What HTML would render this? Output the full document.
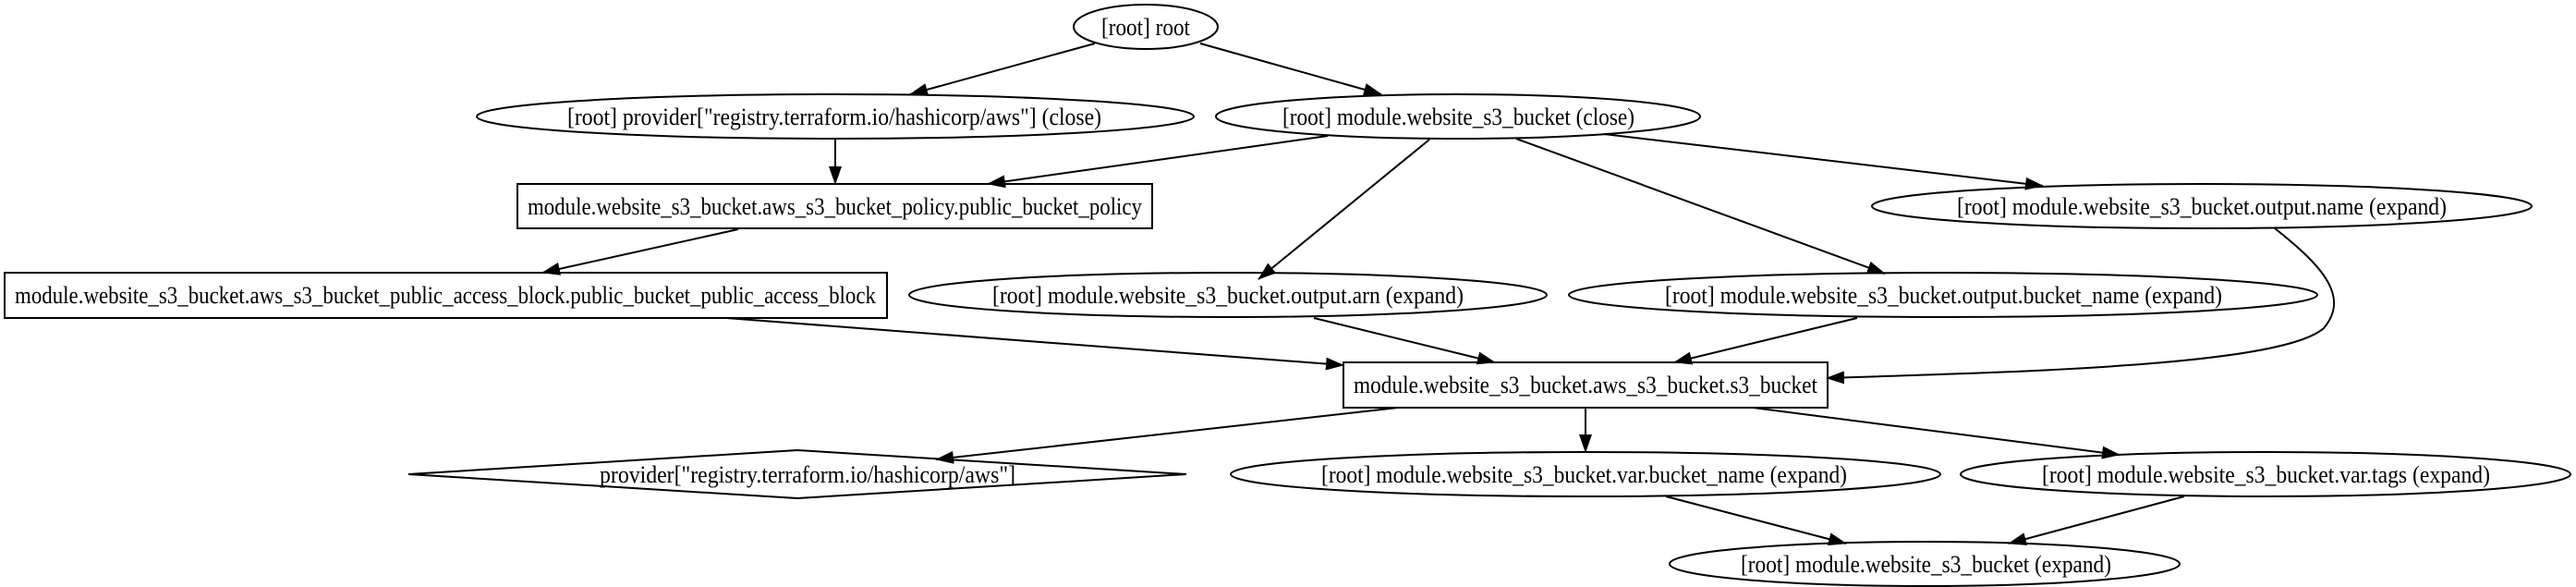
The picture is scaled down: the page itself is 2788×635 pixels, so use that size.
<!DOCTYPE html>
<html><head><meta charset="utf-8"><style>html,body{margin:0;padding:0;background:#fff}svg{display:block}</style></head>
<body>
<svg width="2788" height="635" viewBox="0 0 2788 635" xmlns="http://www.w3.org/2000/svg">
<defs>
<marker id="a" markerWidth="20" markerHeight="14" refX="19" refY="7" orient="auto" markerUnits="userSpaceOnUse">
<path d="M0,0 L20,7 L0,14 z" fill="#000"/>
</marker>
</defs>
<g fill="none" stroke="#000" stroke-width="2">
<ellipse cx="1240" cy="29" rx="78" ry="24"/>
<ellipse cx="904" cy="126" rx="388" ry="24"/>
<ellipse cx="1578" cy="126" rx="262" ry="24"/>
<rect x="560" y="199" width="687" height="48"/>
<ellipse cx="2383" cy="223" rx="357" ry="24"/>
<rect x="5" y="295" width="955" height="49"/>
<ellipse cx="1329" cy="319" rx="345" ry="24"/>
<ellipse cx="2103" cy="319" rx="405" ry="24"/>
<rect x="1454" y="392" width="524" height="49"/>
<polygon points="442,513 863,487 1284,513 863,539"/>
<ellipse cx="1716" cy="513" rx="384" ry="24"/>
<ellipse cx="2452" cy="513" rx="330" ry="24"/>
<ellipse cx="2083" cy="610" rx="276" ry="24"/>
</g>
<g fill="none" stroke="#000" stroke-width="2" marker-end="url(#a)">
<path d="M1185,47 L985,102"/>
<path d="M1299,47 L1495,102"/>
<path d="M904,150 L904,199"/>
<path d="M1437,147 L1069,199"/>
<path d="M799,248 L587,295"/>
<path d="M786,344 L1454,395"/>
<path d="M1547,151 L1362,302"/>
<path d="M1641,150 L2040,296"/>
<path d="M1736,145 L2211,201"/>
<path d="M2462,247 C2510,285 2545,320 2515,355 C2470,395 2200,402 1977,409"/>
<path d="M1422,344 L1618,392"/>
<path d="M2010,344 L1812,392"/>
<path d="M1513,441 L1013,497"/>
<path d="M1716,441 L1716,489"/>
<path d="M1897,441 L2294,492"/>
<path d="M1803,537 L1998,588"/>
<path d="M2364,537 L2174,588"/>
</g>
<g font-family="Liberation Serif, serif" font-size="26" fill="#000">
<text x="1192" y="38" textLength="96" lengthAdjust="spacingAndGlyphs">[root] root</text>
<text x="614" y="135" textLength="578" lengthAdjust="spacingAndGlyphs">[root] provider["registry.terraform.io/hashicorp/aws"] (close)</text>
<text x="1388" y="135" textLength="381" lengthAdjust="spacingAndGlyphs">[root] module.website_s3_bucket (close)</text>
<text x="571" y="232" textLength="665" lengthAdjust="spacingAndGlyphs">module.website_s3_bucket.aws_s3_bucket_policy.public_bucket_policy</text>
<text x="2118" y="232" textLength="530" lengthAdjust="spacingAndGlyphs">[root] module.website_s3_bucket.output.name (expand)</text>
<text x="16" y="328" textLength="932" lengthAdjust="spacingAndGlyphs">module.website_s3_bucket.aws_s3_bucket_public_access_block.public_bucket_public_access_block</text>
<text x="1074" y="328" textLength="510" lengthAdjust="spacingAndGlyphs">[root] module.website_s3_bucket.output.arn (expand)</text>
<text x="1802" y="328" textLength="603" lengthAdjust="spacingAndGlyphs">[root] module.website_s3_bucket.output.bucket_name (expand)</text>
<text x="1465" y="425" textLength="502" lengthAdjust="spacingAndGlyphs">module.website_s3_bucket.aws_s3_bucket.s3_bucket</text>
<text x="649" y="522" textLength="450" lengthAdjust="spacingAndGlyphs">provider["registry.terraform.io/hashicorp/aws"]</text>
<text x="1430" y="522" textLength="569" lengthAdjust="spacingAndGlyphs">[root] module.website_s3_bucket.var.bucket_name (expand)</text>
<text x="2210" y="522" textLength="485" lengthAdjust="spacingAndGlyphs">[root] module.website_s3_bucket.var.tags (expand)</text>
<text x="1884" y="619" textLength="401" lengthAdjust="spacingAndGlyphs">[root] module.website_s3_bucket (expand)</text>
</g>
</svg>
</body></html>
